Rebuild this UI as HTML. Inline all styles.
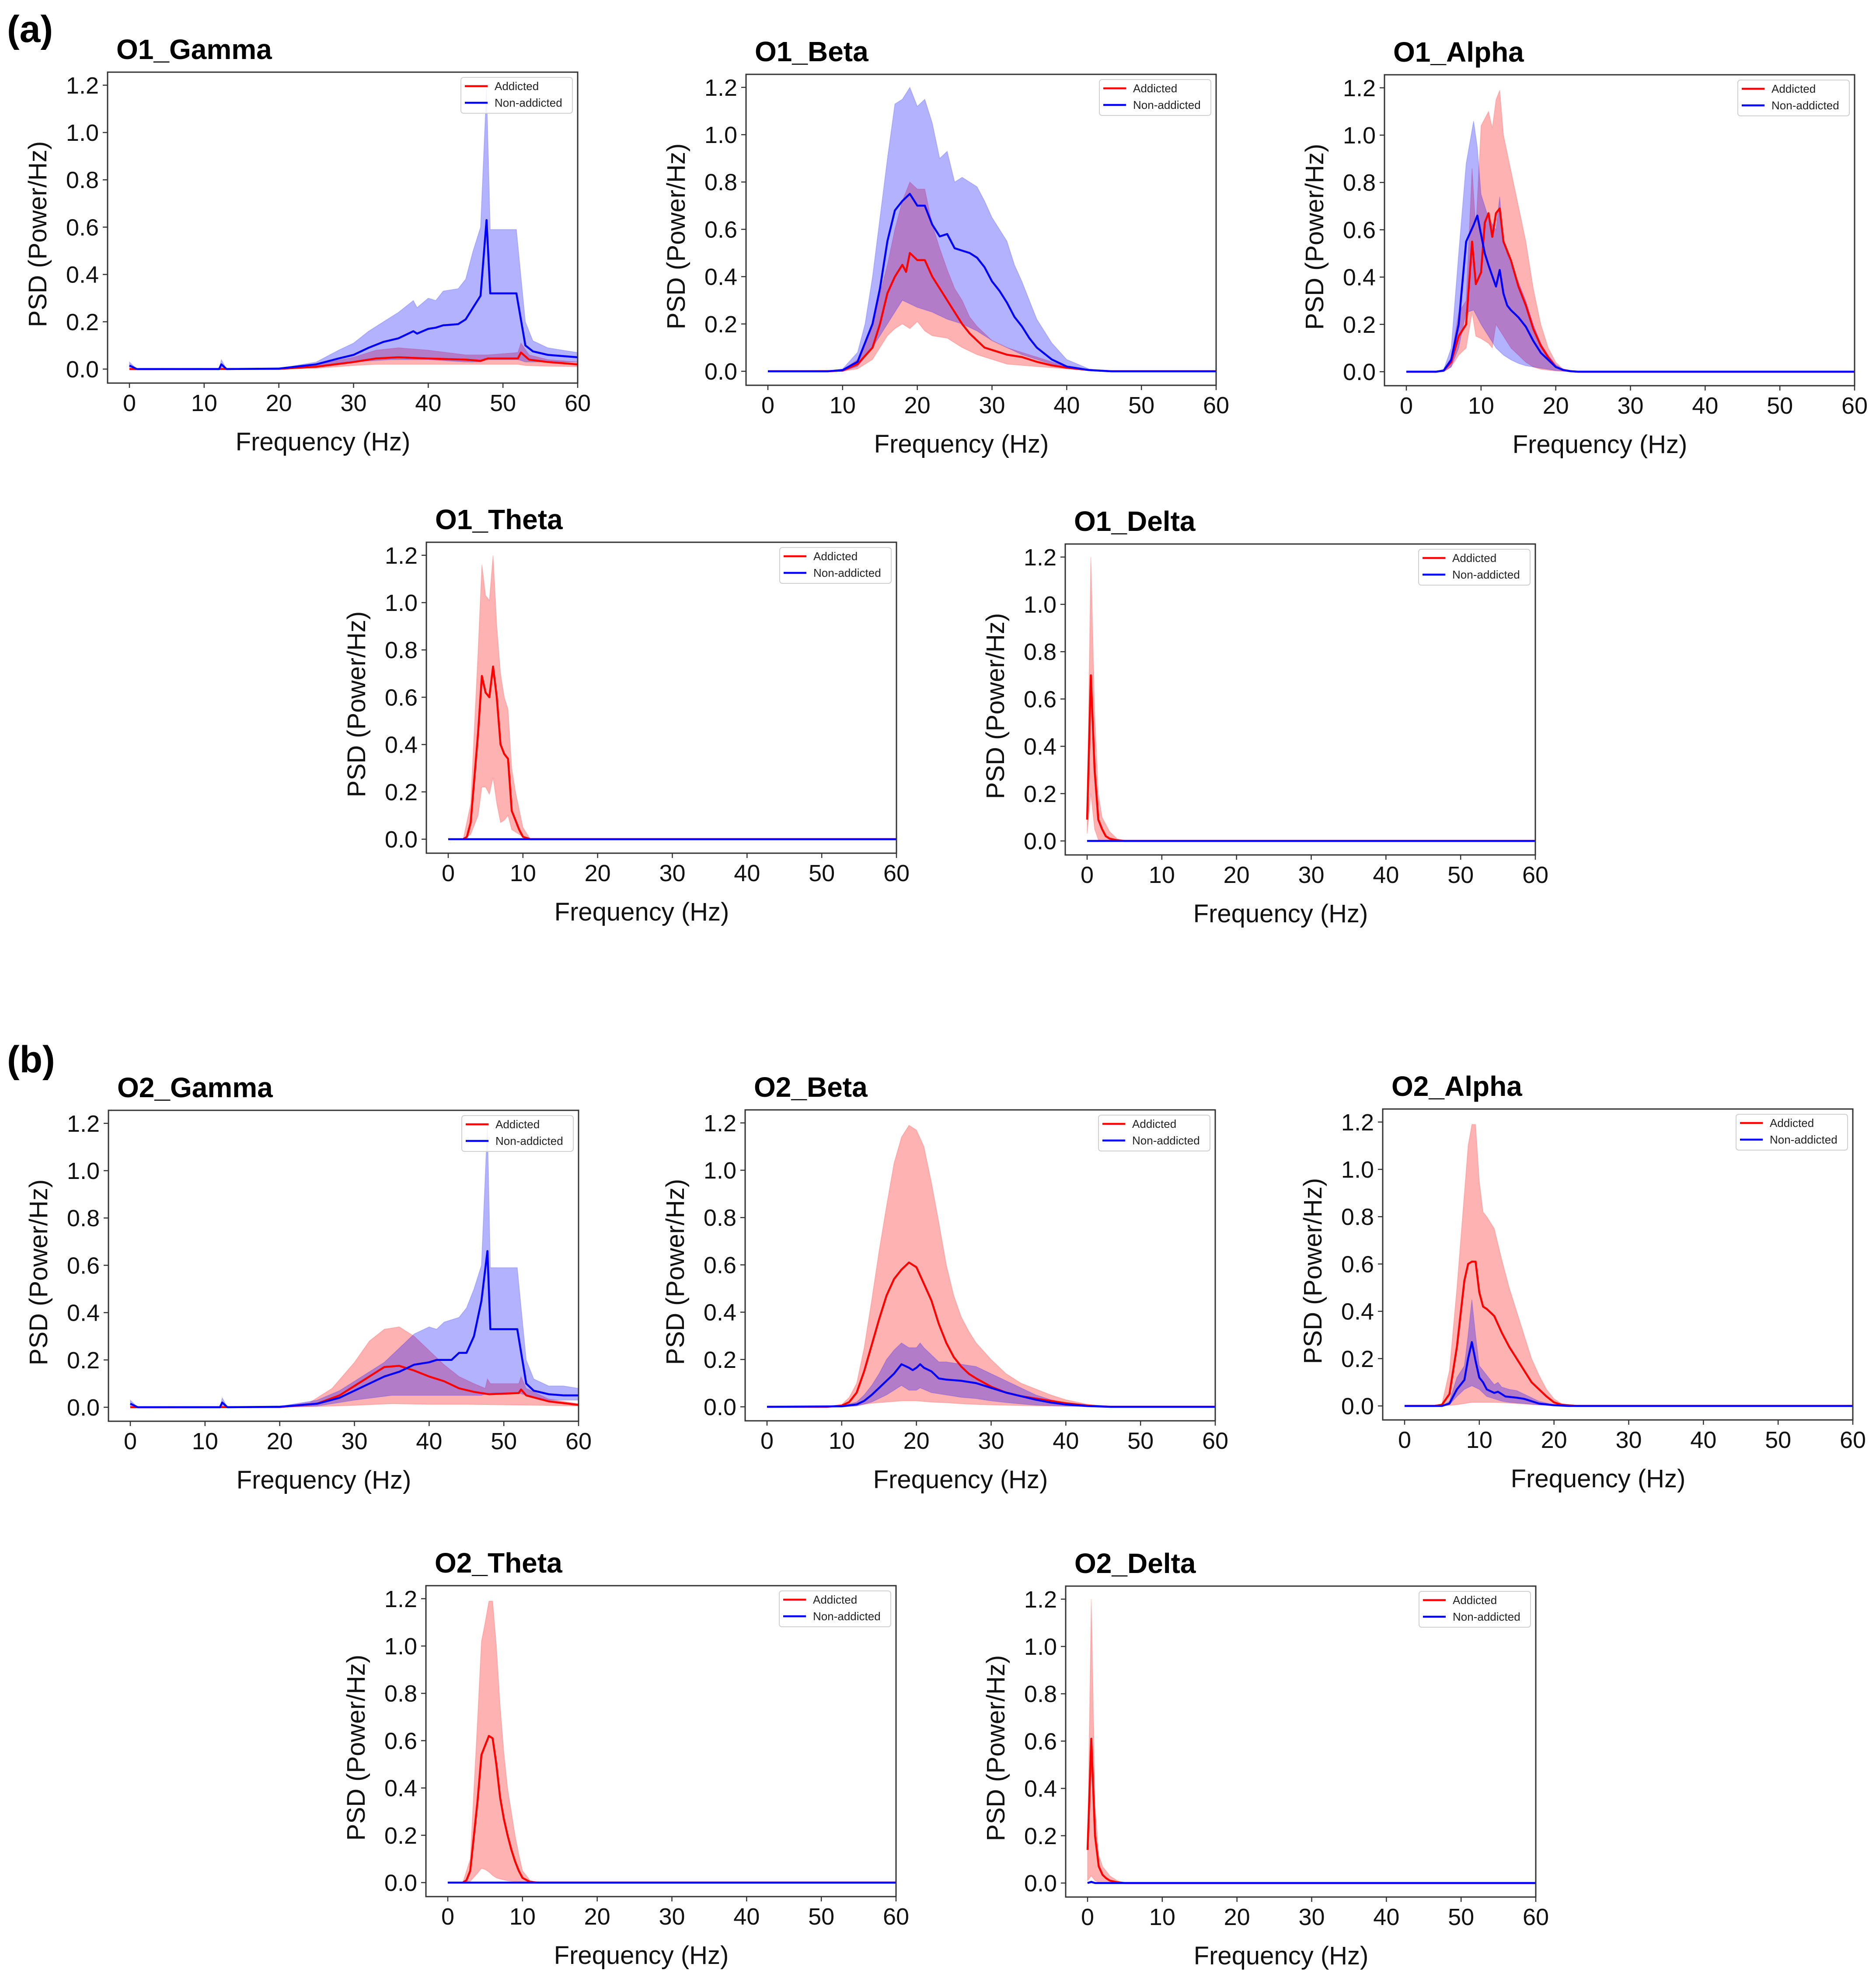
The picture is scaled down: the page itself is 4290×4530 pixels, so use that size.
<!DOCTYPE html>
<html><head><meta charset="utf-8"><style>
html,body{margin:0;padding:0;background:#fff;}
svg{display:block;font-family:"Liberation Sans",sans-serif;}
</style></head><body>
<svg id="fig" width="4290" height="4530" viewBox="0 0 4290 4530" xmlns="http://www.w3.org/2000/svg">
<rect x="0" y="0" width="4290" height="4530" fill="#fff"/>
<text x="16" y="96" font-size="86" font-weight="bold">(a)</text>
<text x="16" y="2452" font-size="86" font-weight="bold">(b)</text>
</svg>
<script>
// ---- data (frequency, PSD) pairs ----
const xTicks = [0,10,20,30,40,50,60];
const yTicks = [0.0,0.2,0.4,0.6,0.8,1.0,1.2];
const yTickLabels = ["0.0","0.2","0.4","0.6","0.8","1.0","1.2"];
const legendLabels = ["Addicted","Non-addicted"];

const o1GammaBlueMean=[[0,0.015],[1,0],[12,0],[12.3,0.02],[13,0],[20,0.002],[25,0.02],[28,0.045],[30,0.06],[32,0.09],[34,0.115],[36,0.13],[38,0.16],[38.5,0.15],[40,0.17],[41,0.175],[42,0.185],[44,0.19],[45,0.21],[46,0.26],[47,0.31],[47.8,0.63],[48.3,0.32],[51.8,0.32],[53,0.1],[54,0.075],[56,0.06],[58,0.055],[60,0.05]];
const o1GammaBlueHi=[[0,0.03],[1,0],[12,0],[12.3,0.04],[13,0],[20,0.003],[25,0.03],[28,0.08],[30,0.11],[32,0.16],[34,0.2],[36,0.24],[38,0.29],[38.5,0.26],[40,0.3],[41,0.29],[42,0.33],[44,0.34],[45,0.38],[46,0.5],[47,0.6],[47.8,1.19],[48.3,0.59],[51.8,0.59],[53,0.2],[54,0.12],[56,0.09],[58,0.08],[60,0.07]];
const o1GammaBlueLo=[[0,0.005],[1,0],[20,0],[25,0.01],[30,0.03],[35,0.04],[40,0.04],[45,0.03],[47,0.03],[47.8,0.04],[48.3,0.04],[52,0.04],[53,0.03],[56,0.03],[60,0.03]];
const o1GammaRedMean=[[0,0],[20,0.001],[25,0.01],[30,0.03],[33,0.045],[36,0.05],[40,0.045],[45,0.04],[47,0.035],[48,0.045],[52,0.045],[52.4,0.07],[53.5,0.04],[56,0.03],[60,0.02]];
const o1GammaRedHi=[[0,0],[20,0.002],[25,0.02],[30,0.05],[33,0.08],[36,0.09],[40,0.08],[45,0.06],[48,0.06],[52,0.07],[52.4,0.11],[53.5,0.06],[56,0.04],[60,0.03]];
const o1GammaRedLo=[[0,0],[25,0.003],[30,0.015],[33,0.02],[36,0.02],[40,0.02],[45,0.02],[48,0.02],[52,0.02],[53,0.015],[56,0.012],[60,0.01]];

const o1BetaBlueMean=[[0,0],[8,0],[10,0.005],[12,0.04],[14,0.2],[15,0.35],[16,0.55],[17,0.68],[18,0.72],[19,0.75],[20,0.7],[21,0.7],[22,0.62],[23,0.57],[24,0.58],[25,0.52],[26,0.51],[27,0.5],[28,0.48],[29,0.44],[30,0.38],[31,0.34],[32,0.29],[33,0.23],[34,0.19],[35,0.14],[36,0.1],[38,0.05],[40,0.02],[43,0.005],[46,0],[60,0]];
const o1BetaBlueHi=[[0,0],[8,0],[10,0.01],[12,0.08],[13,0.2],[14,0.4],[15,0.65],[16,0.9],[17,1.13],[18,1.15],[19,1.2],[20,1.12],[21,1.15],[22,1.05],[23,0.9],[24,0.93],[25,0.8],[26,0.82],[27,0.8],[28,0.78],[29,0.72],[30,0.65],[32,0.55],[33,0.45],[34,0.38],[35,0.3],[36,0.22],[38,0.12],[40,0.05],[43,0.01],[46,0],[60,0]];
const o1BetaBlueLo=[[0,0],[10,0],[12,0.02],[14,0.1],[16,0.2],[18,0.3],[20,0.27],[22,0.25],[24,0.22],[26,0.2],[28,0.17],[30,0.13],[32,0.1],[34,0.07],[36,0.05],[38,0.03],[40,0.015],[43,0.003],[46,0],[60,0]];
const o1BetaRedMean=[[0,0],[8,0],[10,0.003],[12,0.03],[14,0.1],[15,0.2],[16,0.33],[17,0.4],[18,0.45],[18.5,0.42],[19,0.5],[20,0.47],[21,0.47],[22,0.4],[23,0.35],[24,0.3],[25,0.25],[26,0.2],[27,0.16],[28,0.13],[29,0.1],[30,0.09],[31,0.08],[32,0.07],[34,0.06],[36,0.04],[38,0.025],[40,0.015],[43,0.005],[46,0],[60,0]];
const o1BetaRedHi=[[0,0],[10,0.005],[12,0.05],[14,0.2],[16,0.45],[17,0.6],[18,0.72],[19,0.8],[20,0.77],[21,0.77],[22,0.62],[23,0.52],[24,0.43],[25,0.35],[26,0.3],[27,0.23],[28,0.19],[29,0.16],[30,0.13],[32,0.1],[34,0.08],[36,0.06],[38,0.04],[40,0.02],[43,0.005],[46,0],[60,0]];
const o1BetaRedLo=[[0,0],[10,0],[12,0.01],[14,0.05],[16,0.15],[17,0.18],[18,0.2],[19,0.18],[20,0.21],[21,0.17],[22,0.15],[24,0.14],[26,0.1],[28,0.07],[30,0.05],[32,0.03],[34,0.025],[36,0.02],[40,0.01],[43,0.003],[46,0],[60,0]];

const o1AlphaBlueMean=[[0,0],[4,0],[5,0.005],[6,0.05],[7,0.2],[8,0.55],[9,0.62],[9.5,0.66],[10,0.58],[10.5,0.5],[11,0.45],[12,0.36],[12.5,0.43],[13,0.33],[13.5,0.28],[14,0.26],[15,0.23],[16,0.19],[17,0.13],[18,0.08],[19,0.05],[20,0.02],[21,0.007],[22,0.002],[23,0],[60,0]];
const o1AlphaBlueHi=[[0,0],[4,0],[5,0.01],[6,0.1],[7,0.5],[8,0.88],[9,1.06],[9.5,0.95],[10,0.75],[11,0.65],[12,0.6],[12.5,0.74],[13,0.55],[14,0.45],[15,0.38],[16,0.3],[17,0.2],[18,0.12],[19,0.07],[20,0.03],[21,0.01],[23,0],[60,0]];
const o1AlphaBlueLo=[[0,0],[5,0],[6,0.02],[7,0.1],[8,0.25],[9,0.26],[10,0.2],[11,0.15],[12,0.1],[13,0.07],[14,0.05],[15,0.035],[16,0.025],[17,0.02],[18,0.015],[19,0.01],[20,0.005],[22,0],[60,0]];
const o1AlphaRedMean=[[0,0],[4,0],[5,0.005],[6,0.04],[7,0.15],[8,0.2],[8.8,0.55],[9.3,0.37],[10,0.42],[10.5,0.63],[11,0.67],[11.5,0.57],[12,0.67],[12.5,0.69],[13,0.55],[14,0.47],[15,0.36],[16,0.28],[17,0.18],[18,0.11],[19,0.06],[20,0.02],[21,0.008],[22,0.002],[23,0],[60,0]];
const o1AlphaRedHi=[[0,0],[4,0],[5,0.01],[6,0.06],[7,0.25],[8,0.3],[8.8,0.86],[9.3,0.6],[10,1.04],[11,1.1],[11.5,1.03],[12,1.15],[12.5,1.19],[13,1.0],[14,0.85],[15,0.7],[16,0.55],[17,0.35],[18,0.2],[19,0.1],[20,0.04],[21,0.01],[23,0],[60,0]];
const o1AlphaRedLo=[[0,0],[5,0],[6,0.02],[7,0.07],[8,0.1],[8.8,0.25],[9.3,0.15],[10,0.14],[11,0.12],[11.5,0.1],[12,0.2],[13,0.15],[14,0.1],[15,0.07],[16,0.04],[17,0.02],[18,0.01],[20,0.003],[22,0],[60,0]];

const o1ThetaBlueMean=[[0,0],[60,0]];
const o1ThetaBlueHi=[[0,0.002],[60,0.002]];
const o1ThetaBlueLo=[[0,0],[60,0]];
const o1ThetaRedMean=[[2,0],[2.5,0.01],[3,0.07],[4,0.45],[4.5,0.69],[5,0.62],[5.5,0.6],[6,0.73],[6.5,0.6],[7,0.4],[7.5,0.36],[8,0.34],[8.5,0.12],[9,0.08],[9.5,0.04],[10,0.01],[11,0],[60,0]];
const o1ThetaRedHi=[[2,0],[3,0.15],[4,0.8],[4.5,1.16],[5,1.03],[5.5,1.01],[6,1.2],[6.5,0.9],[7,0.7],[7.5,0.6],[8,0.55],[8.5,0.3],[9,0.2],[10,0.05],[11,0],[60,0]];
const o1ThetaRedLo=[[2,0],[3,0.02],[4,0.1],[4.5,0.22],[5,0.22],[5.5,0.19],[6,0.26],[6.5,0.15],[7,0.07],[7.5,0.08],[8,0.1],[8.5,0.04],[9,0.03],[10,0.01],[11,0],[60,0]];

const o1DeltaBlueMean=[[0,0],[60,0]];
const o1DeltaBlueHi=[[0,0.002],[60,0.002]];
const o1DeltaBlueLo=[[0,0],[60,0]];
const o1DeltaRedMean=[[0,0.09],[0.5,0.7],[1,0.3],[1.5,0.09],[2,0.05],[2.5,0.02],[3,0.01],[4,0.003],[5,0],[60,0]];
const o1DeltaRedHi=[[0,0.12],[0.5,1.2],[1,0.55],[1.5,0.2],[2,0.1],[3,0.04],[4,0.01],[5,0],[60,0]];
const o1DeltaRedLo=[[0,0.03],[0.5,0.2],[1,0.05],[1.5,0.005],[2,0],[5,0],[60,0]];

const o2GammaBlueMean=[[0,0.015],[1,0],[12,0],[12.3,0.02],[13,0],[20,0.002],[25,0.015],[28,0.04],[30,0.07],[32,0.1],[34,0.13],[36,0.15],[38,0.18],[40,0.19],[41,0.2],[43,0.2],[44,0.23],[45,0.23],[46,0.3],[47,0.45],[47.8,0.66],[48.2,0.33],[51.8,0.33],[53,0.1],[54,0.07],[56,0.055],[58,0.05],[60,0.05]];
const o2GammaBlueHi=[[0,0.03],[1,0],[12,0],[12.3,0.04],[13,0],[20,0.004],[25,0.03],[28,0.07],[30,0.11],[32,0.15],[34,0.19],[36,0.25],[38,0.31],[40,0.34],[41,0.33],[42,0.36],[44,0.38],[45,0.42],[46,0.5],[47,0.6],[47.8,1.2],[48.2,0.59],[51.8,0.59],[53,0.2],[54,0.12],[56,0.09],[58,0.09],[60,0.08]];
const o2GammaBlueLo=[[0,0],[20,0],[25,0.005],[30,0.03],[35,0.05],[40,0.05],[45,0.05],[47,0.05],[48,0.06],[52,0.06],[53,0.05],[56,0.03],[60,0.03]];
const o2GammaRedMean=[[0,0],[20,0.001],[25,0.015],[28,0.05],[30,0.09],[32,0.13],[34,0.17],[36,0.175],[38,0.155],[40,0.13],[42,0.11],[44,0.08],[46,0.065],[48,0.055],[52,0.06],[52.3,0.075],[53,0.05],[56,0.025],[60,0.01]];
const o2GammaRedHi=[[0,0],[20,0.003],[24,0.02],[27,0.08],[30,0.19],[32,0.28],[34,0.33],[36,0.34],[38,0.3],[40,0.24],[42,0.18],[44,0.13],[46,0.1],[47.5,0.08],[47.8,0.12],[48.2,0.1],[52,0.1],[52.3,0.13],[53,0.08],[56,0.035],[60,0.015]];
const o2GammaRedLo=[[0,0],[20,0],[25,0.003],[30,0.008],[35,0.015],[40,0.012],[45,0.012],[50,0.01],[55,0.008],[60,0.005]];

const o2BetaBlueMean=[[0,0],[10,0.002],[12,0.01],[13,0.025],[14,0.05],[15,0.08],[16,0.11],[17,0.14],[18,0.18],[19,0.165],[19.5,0.155],[20,0.165],[20.5,0.18],[21,0.165],[22,0.15],[23,0.12],[24,0.115],[26,0.11],[28,0.1],[30,0.08],[32,0.06],[34,0.045],[36,0.03],[38,0.018],[40,0.01],[43,0.003],[46,0],[60,0]];
const o2BetaBlueHi=[[0,0],[10,0.004],[12,0.02],[13,0.05],[14,0.09],[15,0.14],[16,0.2],[17,0.24],[18,0.27],[19,0.25],[20,0.25],[20.5,0.27],[21,0.25],[22,0.22],[23,0.19],[24,0.19],[26,0.18],[28,0.17],[30,0.14],[32,0.11],[34,0.08],[36,0.05],[38,0.03],[40,0.015],[43,0.004],[46,0],[60,0]];
const o2BetaBlueLo=[[0,0],[10,0],[12,0.003],[14,0.02],[16,0.05],[17,0.07],[18,0.09],[19,0.07],[20,0.07],[20.5,0.08],[22,0.06],[24,0.05],[26,0.04],[28,0.035],[30,0.025],[32,0.018],[34,0.012],[36,0.007],[40,0.003],[46,0],[60,0]];
const o2BetaRedMean=[[0,0],[8,0],[10,0.005],[11,0.02],[12,0.06],[13,0.15],[14,0.26],[15,0.37],[16,0.47],[17,0.54],[18,0.58],[19,0.61],[20,0.59],[21,0.52],[22,0.45],[23,0.35],[24,0.27],[25,0.21],[26,0.17],[27,0.14],[28,0.12],[30,0.085],[32,0.06],[34,0.045],[36,0.035],[38,0.025],[40,0.015],[43,0.005],[46,0],[60,0]];
const o2BetaRedHi=[[0,0],[8,0],[10,0.01],[11,0.04],[12,0.1],[13,0.25],[14,0.45],[15,0.66],[16,0.85],[17,1.03],[18,1.14],[19,1.19],[20,1.17],[21,1.1],[22,0.95],[23,0.78],[24,0.6],[25,0.47],[26,0.38],[27,0.32],[28,0.27],[30,0.2],[32,0.14],[34,0.1],[36,0.075],[38,0.05],[40,0.03],[43,0.01],[46,0],[60,0]];
const o2BetaRedLo=[[0,0],[10,0],[12,0.005],[14,0.015],[16,0.02],[18,0.025],[20,0.025],[22,0.02],[24,0.017],[26,0.013],[28,0.01],[30,0.008],[34,0.005],[40,0.002],[46,0],[60,0]];

const o2AlphaBlueMean=[[0,0],[5,0],[6,0.01],[7,0.07],[8,0.11],[8.5,0.2],[9,0.27],[9.5,0.19],[10,0.12],[10.5,0.1],[11,0.07],[12,0.055],[12.5,0.06],[13,0.05],[13.5,0.04],[15,0.035],[16,0.03],[17,0.02],[18,0.01],[20,0.003],[22,0],[60,0]];
const o2AlphaBlueHi=[[0,0],[5,0],[6,0.02],[7,0.12],[8,0.17],[8.5,0.3],[9,0.45],[9.5,0.3],[10,0.17],[11,0.13],[12,0.09],[12.5,0.1],[13,0.08],[14,0.07],[15,0.065],[16,0.05],[17,0.035],[18,0.02],[20,0.005],[22,0],[60,0]];
const o2AlphaBlueLo=[[0,0],[5,0],[6,0.005],[7,0.04],[8,0.07],[9,0.085],[10,0.07],[11,0.04],[12,0.03],[13,0.02],[14,0.015],[16,0.01],[18,0.004],[20,0.001],[22,0],[60,0]];
const o2AlphaRedMean=[[0,0],[4,0],[5,0.005],[6,0.05],[7,0.25],[8,0.53],[8.5,0.6],[9,0.61],[9.5,0.61],[10,0.48],[10.5,0.42],[11,0.41],[12,0.38],[13,0.31],[14,0.25],[15,0.2],[16,0.15],[17,0.1],[18,0.07],[19,0.04],[20,0.015],[21,0.005],[23,0],[60,0]];
const o2AlphaRedHi=[[0,0],[4,0],[5,0.01],[6,0.15],[7,0.5],[8,0.9],[8.5,1.1],[9,1.19],[9.5,1.19],[10,0.95],[10.5,0.82],[11,0.8],[12,0.75],[13,0.62],[14,0.5],[15,0.4],[16,0.3],[17,0.2],[18,0.13],[19,0.07],[20,0.03],[21,0.01],[23,0],[60,0]];
const o2AlphaRedLo=[[0,0],[5,0],[6,0.002],[7,0.005],[8,0.01],[9,0.015],[10,0.015],[12,0.015],[14,0.012],[16,0.008],[18,0.004],[20,0.001],[23,0],[60,0]];

const o2ThetaBlueMean=[[0,0],[60,0]];
const o2ThetaBlueHi=[[0,0.002],[60,0.002]];
const o2ThetaBlueLo=[[0,0],[60,0]];
const o2ThetaRedMean=[[2,0],[2.5,0.01],[3,0.05],[4,0.35],[4.5,0.54],[5,0.58],[5.5,0.62],[6,0.61],[6.5,0.5],[7,0.36],[7.5,0.27],[8,0.2],[8.5,0.14],[9,0.09],[9.5,0.05],[10,0.02],[11,0.003],[12,0],[60,0]];
const o2ThetaRedHi=[[2,0],[3,0.1],[4,0.7],[4.5,1.02],[5,1.1],[5.5,1.19],[6,1.19],[6.5,1.0],[7,0.75],[7.5,0.55],[8,0.4],[8.5,0.3],[9,0.2],[9.5,0.12],[10,0.05],[11,0.01],[12,0],[60,0]];
const o2ThetaRedLo=[[2,0],[3,0.005],[4,0.04],[4.5,0.06],[5,0.055],[5.5,0.045],[6,0.03],[6.5,0.02],[7,0.015],[8,0.008],[9,0.004],[10,0.002],[12,0],[60,0]];

const o2DeltaBlueMean=[[0,0],[0.5,0.005],[1,0],[60,0]];
const o2DeltaBlueHi=[[0,0.002],[0.5,0.008],[1,0.002],[60,0.002]];
const o2DeltaBlueLo=[[0,0],[60,0]];
const o2DeltaRedMean=[[0,0.14],[0.5,0.61],[1,0.2],[1.5,0.07],[2,0.035],[2.5,0.02],[3,0.01],[4,0.003],[5,0],[60,0]];
const o2DeltaRedHi=[[0,0.15],[0.5,1.2],[1,0.33],[1.5,0.12],[2,0.07],[3,0.03],[4,0.01],[5,0],[60,0]];
const o2DeltaRedLo=[[0,0.01],[0.5,0.03],[1,0.01],[1.5,0.003],[2,0],[5,0],[60,0]];

// ---- layout ----
const W = 1075, H = 711, X0OFF = 50, XSPAN = 1025, Y0OFF = 679, YUNIT = 541;
const panels = [
 {title:"O1_Gamma", key:"o1-gamma", left:246, top:165, s:[o1GammaRedMean,o1GammaRedHi,o1GammaRedLo,o1GammaBlueMean,o1GammaBlueHi,o1GammaBlueLo]},
 {title:"O1_Beta", key:"o1-beta", left:1706, top:170, s:[o1BetaRedMean,o1BetaRedHi,o1BetaRedLo,o1BetaBlueMean,o1BetaBlueHi,o1BetaBlueLo]},
 {title:"O1_Alpha", key:"o1-alpha", left:3166, top:171, s:[o1AlphaRedMean,o1AlphaRedHi,o1AlphaRedLo,o1AlphaBlueMean,o1AlphaBlueHi,o1AlphaBlueLo]},
 {title:"O1_Theta", key:"o1-theta", left:975, top:1240, s:[o1ThetaRedMean,o1ThetaRedHi,o1ThetaRedLo,o1ThetaBlueMean,o1ThetaBlueHi,o1ThetaBlueLo]},
 {title:"O1_Delta", key:"o1-delta", left:2436, top:1244, s:[o1DeltaRedMean,o1DeltaRedHi,o1DeltaRedLo,o1DeltaBlueMean,o1DeltaBlueHi,o1DeltaBlueLo]},
 {title:"O2_Gamma", key:"o2-gamma", left:248, top:2539, s:[o2GammaRedMean,o2GammaRedHi,o2GammaRedLo,o2GammaBlueMean,o2GammaBlueHi,o2GammaBlueLo]},
 {title:"O2_Beta", key:"o2-beta", left:1704, top:2538, s:[o2BetaRedMean,o2BetaRedHi,o2BetaRedLo,o2BetaBlueMean,o2BetaBlueHi,o2BetaBlueLo]},
 {title:"O2_Alpha", key:"o2-alpha", left:3162, top:2536, s:[o2AlphaRedMean,o2AlphaRedHi,o2AlphaRedLo,o2AlphaBlueMean,o2AlphaBlueHi,o2AlphaBlueLo]},
 {title:"O2_Theta", key:"o2-theta", left:974, top:3626, s:[o2ThetaRedMean,o2ThetaRedHi,o2ThetaRedLo,o2ThetaBlueMean,o2ThetaBlueHi,o2ThetaBlueLo]},
 {title:"O2_Delta", key:"o2-delta", left:2437, top:3627, s:[o2DeltaRedMean,o2DeltaRedHi,o2DeltaRedLo,o2DeltaBlueMean,o2DeltaBlueHi,o2DeltaBlueLo]}
];

const NS = "http://www.w3.org/2000/svg";
const svg = document.getElementById("fig");
function mk(tag, attrs, parent){
  const e = document.createElementNS(NS, tag);
  for (const k in attrs) e.setAttribute(k, attrs[k]);
  (parent||svg).appendChild(e);
  return e;
}

panels.forEach((p, idx) => {
  const xs = f => p.left + X0OFF + f * XSPAN / 60;
  const ys = v => p.top + Y0OFF - v * YUNIT;
  const g = mk("g", {});
  
  

  const clipId = "clip" + idx;
  const cp = mk("clipPath", {id: clipId}, g);
  mk("rect", {x:p.left, y:p.top, width:W, height:H}, cp);

  const title = mk("text", {x:p.left+20, y:p.top-30, "font-size":64, "font-weight":"bold", fill:"#000"}, g);
  title.textContent = p.title;
  
  

  const plot = mk("g", {"clip-path":"url(#"+clipId+")"}, g);
  const band = (hi, lo, color, name) => {
    const pts = hi.map(d => xs(d[0]).toFixed(1)+","+ys(d[1]).toFixed(1))
      .concat(lo.slice().reverse().map(d => xs(d[0]).toFixed(1)+","+ys(d[1]).toFixed(1)));
    const poly = mk("polygon", {points:pts.join(" "), fill:color, "fill-opacity":0.3, stroke:color, "stroke-opacity":0.15, "stroke-width":2}, plot);
    
    
  };
  const line = (arr, color, name) => {
    const pl = mk("polyline", {points: arr.map(d => xs(d[0]).toFixed(1)+","+ys(d[1]).toFixed(1)).join(" "), fill:"none", stroke:color, "stroke-width":4.5, "stroke-linejoin":"round"}, plot);
    
    
  };
  band(p.s[1], p.s[2], "#ff0000", p.key + "-addicted-band");
  band(p.s[4], p.s[5], "#0000ff", p.key + "-non-addicted-band");
  line(p.s[0], "#ff0000", p.key + "-addicted-line");
  line(p.s[3], "#0000ff", p.key + "-non-addicted-line");

  const frame = mk("rect", {x:p.left, y:p.top, width:W, height:H, fill:"none", stroke:"#333", "stroke-width":3}, g);
  
  

  xTicks.forEach(t => {
    const x = xs(t);
    mk("line", {x1:x, y1:p.top+H, x2:x, y2:p.top+H+11, stroke:"#333", "stroke-width":2.5}, g);
    const tl = mk("text", {x:x, y:p.top+H+64, "font-size":54, "text-anchor":"middle", fill:"#111"}, g);
    tl.textContent = String(t);
    
    
  });
  yTicks.forEach((t, i) => {
    const y = ys(t);
    mk("line", {x1:p.left-11, y1:y, x2:p.left, y2:y, stroke:"#333", "stroke-width":2.5}, g);
    const tl = mk("text", {x:p.left-20, y:y+19, "font-size":54, "text-anchor":"end", fill:"#111"}, g);
    tl.textContent = yTickLabels[i];
    
    
  });

  const xl = mk("text", {x:p.left+W/2-45, y:p.top+H+154, "font-size":58, "text-anchor":"middle", fill:"#111"}, g);
  xl.textContent = "Frequency (Hz)";
  
  

  const yx = p.left - 140, yy = p.top + H/2 + 15;
  const yl = mk("text", {x:yx, y:yy, "font-size":58, "text-anchor":"middle", fill:"#111", transform:"rotate(-90 "+yx+" "+yy+")"}, g);
  yl.textContent = "PSD (Power/Hz)";
  
  

  const lg = mk("g", {}, g);
  
  
  const R = p.left + W;
  mk("rect", {x:R-267, y:p.top+12, width:255, height:82, rx:6, fill:"#fff", "fill-opacity":0.85, stroke:"#d0d0d0", "stroke-width":2}, lg);
  [["#ff0000", 32], ["#0000ff", 70]].forEach((c, i) => {
    mk("line", {x1:R-258, y1:p.top+c[1], x2:R-206, y2:p.top+c[1], stroke:c[0], "stroke-width":4.5}, lg);
    const t = mk("text", {x:R-190, y:p.top+c[1]+9, "font-size":26, fill:"#222"}, lg);
    t.textContent = legendLabels[i];
    
    
  });
});
</script>
</body></html>
